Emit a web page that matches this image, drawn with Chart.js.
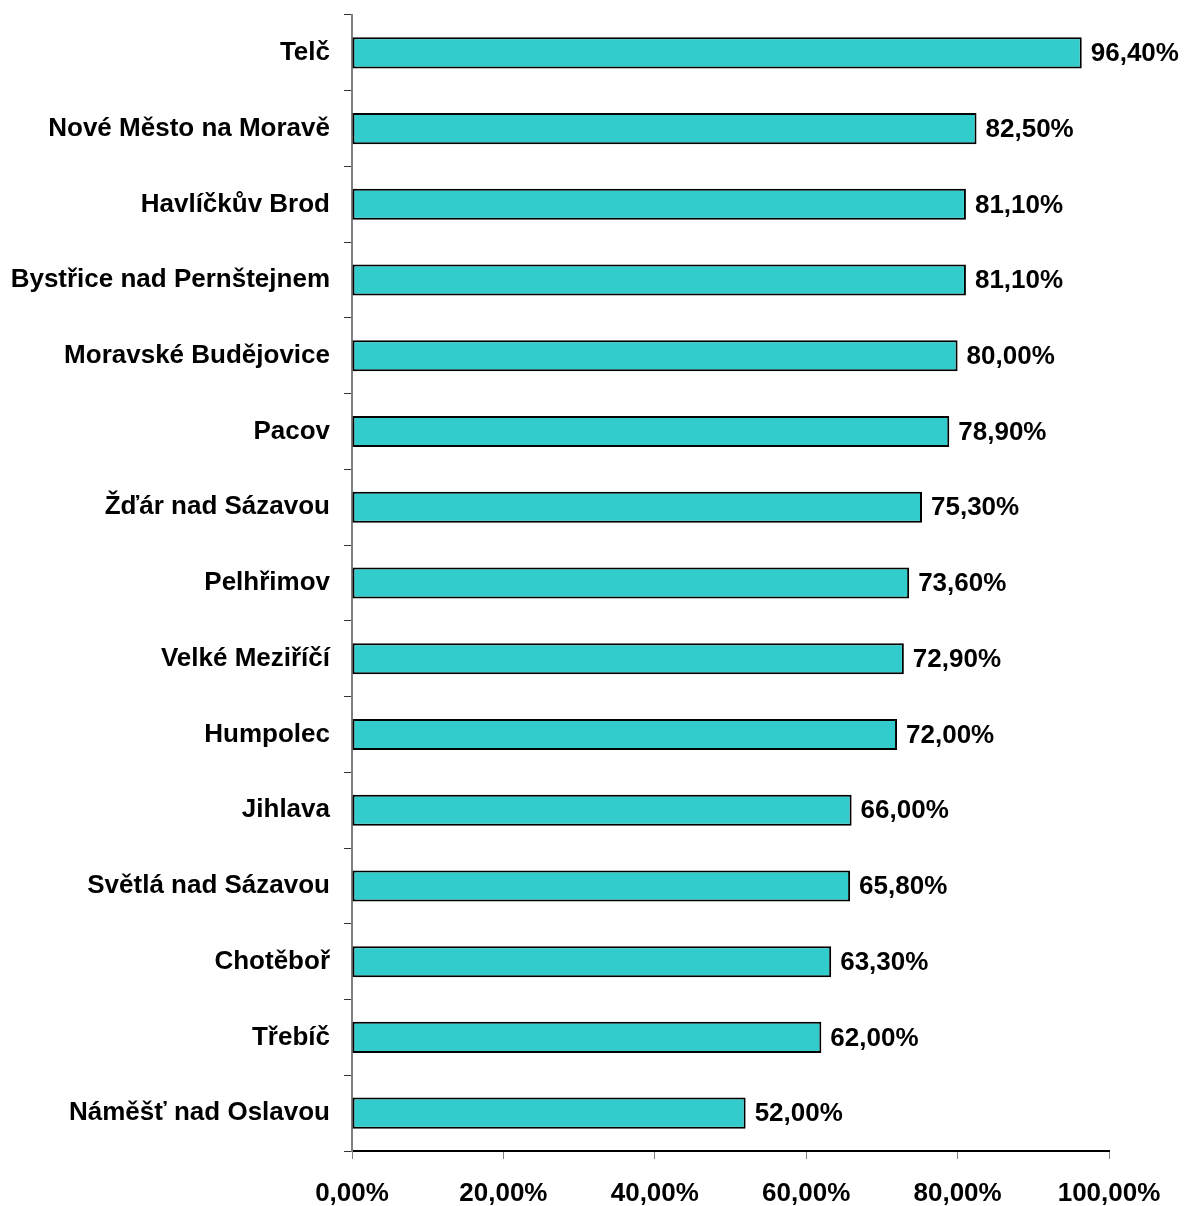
<!DOCTYPE html>
<html>
<head>
<meta charset="utf-8">
<script src="https://cdn.jsdelivr.net/npm/chart.js@4.4.1/dist/chart.umd.min.js"></script>
<style>
  html, body { margin: 0; padding: 0; background: #fff; }
  #wrap { width: 1184px; height: 1206px; }
</style>
</head>
<body>
<div id="wrap"><canvas id="chart" width="1184" height="1206"></canvas></div>
<script>
const towns = ['Telč', 'Nové Město na Moravě', 'Havlíčkův Brod', 'Bystřice nad Pernštejnem',
    'Moravské Budějovice', 'Pacov', 'Žďár nad Sázavou', 'Pelhřimov', 'Velké Meziříčí',
    'Humpolec', 'Jihlava', 'Světlá nad Sázavou', 'Chotěboř', 'Třebíč', 'Náměšť nad Oslavou'];
const shares = [96.4, 82.5, 81.1, 81.1, 80.0, 78.9, 75.3, 73.6, 72.9, 72.0, 66.0, 65.8, 63.3, 62.0, 52.0];
const xTicks = [0, 20, 40, 60, 80, 100];

const FONT = 'bold 26px "Liberation Sans", Arial, sans-serif';

function fmt(v) {
    return v.toFixed(2).replace('.', ',') + '%';
}

// draws the value after each bar
const valueLabels = {
    id: 'valueLabels',
    afterDatasetsDraw(chart) {
        const ctx = chart.ctx;
        const meta = chart.getDatasetMeta(0);
        ctx.save();
        ctx.font = FONT;
        ctx.fillStyle = '#000';
        ctx.textAlign = 'left';
        ctx.textBaseline = 'middle';
        meta.data.forEach((bar, i) => {
            ctx.fillText(fmt(shares[i]), bar.x + 9, bar.y + 1);
        });
        ctx.restore();
    }
};

Chart.defaults.font.family = '"Liberation Sans", Arial, sans-serif';
Chart.defaults.font.size = 26;
Chart.defaults.font.weight = 'bold';
Chart.defaults.color = '#000';

new Chart(document.getElementById('chart'), {
    type: 'bar',
    data: {
        labels: towns,
        datasets: [{
            data: shares,
            backgroundColor: '#33CCCC',
            borderColor: '#000',
            borderWidth: 2,
            borderSkipped: false,
            categoryPercentage: 1,
            barPercentage: 0.41
        }]
    },
    options: {
        indexAxis: 'y',
        responsive: false,
        animation: false,
        layout: { padding: { top: 15, right: 75, left: 0, bottom: 0 } },
        plugins: {
            legend: { display: false },
            tooltip: { enabled: false }
        },
        scales: {
            x: {
                min: 0,
                max: 100,
                afterBuildTicks: (axis) => { axis.ticks = xTicks.map(v => ({ value: v })); },
                afterFit: (axis) => { axis.height = 55; },
                ticks: {
                    callback: (v) => fmt(v),
                    padding: 19,
                    maxRotation: 0,
                    autoSkip: false
                },
                grid: {
                    drawOnChartArea: false,
                    drawTicks: true,
                    tickLength: 8,
                    color: '#808080'
                },
                border: { color: '#000', width: 2 }
            },
            y: {
                afterFit: (axis) => {
                    axis.width = 352;
                    axis.paddingTop = 0;
                    axis.paddingBottom = 0;
                },
                ticks: {
                    padding: 14,
                    autoSkip: false
                },
                grid: {
                    offset: true,
                    drawOnChartArea: false,
                    drawTicks: true,
                    tickLength: 8,
                    color: '#333'
                },
                border: { color: '#808080', width: 2 }
            }
        }
    },
    plugins: [valueLabels]
});
</script>
</body>
</html>
